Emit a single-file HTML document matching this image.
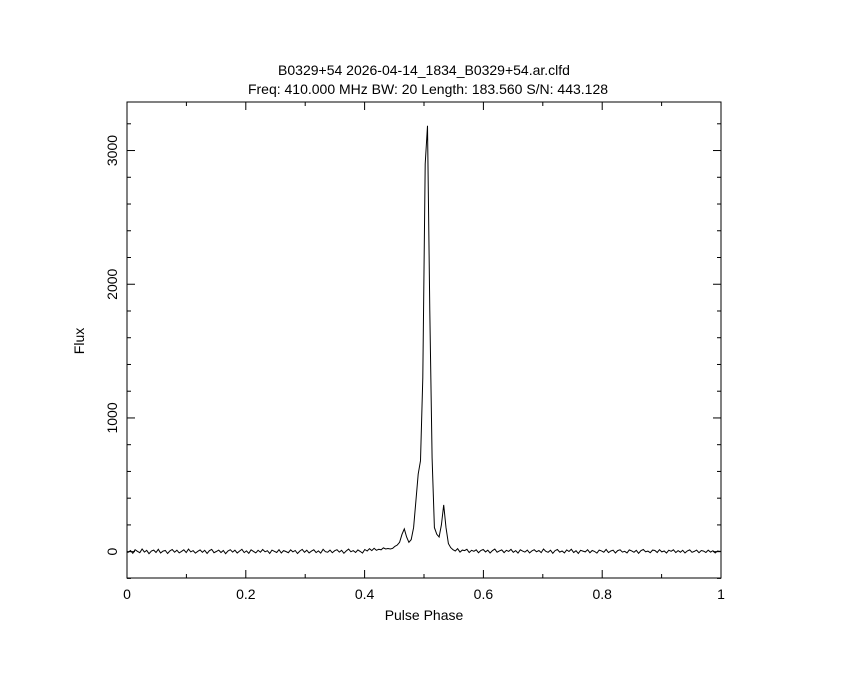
<!DOCTYPE html>
<html><head><meta charset="utf-8"><style>
html,body{margin:0;padding:0;background:#fff;}
svg{display:block;font-family:"Liberation Sans",sans-serif;}
</style></head><body>
<svg id="chart" width="850" height="680" viewBox="0 0 850 680">
<rect width="850" height="680" fill="#fff"/>
<text x="424" y="75" text-anchor="middle" font-size="14">B0329+54 2026-04-14_1834_B0329+54.ar.clfd</text>
<text x="428" y="94" text-anchor="middle" font-size="14">Freq: 410.000 MHz BW: 20 Length: 183.560 S/N: 443.128</text>
<text x="424" y="620" text-anchor="middle" font-size="14">Pulse Phase</text>
<text transform="translate(84,341) rotate(-90)" text-anchor="middle" font-size="14">Flux</text>
<g id="axes"></g>
<path id="profile" fill="none" stroke="#000" stroke-width="1"/>
<rect x="127" y="102" width="594" height="476" fill="none" stroke="#000" stroke-width="1"/>
</svg>
<script>
const xTicks=[0,0.2,0.4,0.6,0.8,1];
const xTickLabels=["0","0.2","0.4","0.6","0.8","1"];
const yTicks=[0,1000,2000,3000];
const yTickLabels=["0","1000","2000","3000"];
const fluxBaseline=[
 -5,8,-12,15,3,-8,20,-3,10,-15,5,12,-6,18,-10,4,9,-14,6,16,
 -4,11,-9,2,14,-7,19,-2,8,-11,3,13,-5,10,-13,7,17,-8,1,12,
 -6,9,-15,5,15,-3,11,-10,4,18,-7,6,-12,14,2,-9,10,-4,16,-1,
 7,-13,12,3,-6,15,-10,8,1,-8,13,-2,9,-14,5,17,-5,11,-9,4,
 14,-7,6,-11,18,0,-4,12,-8,7,15,-3,10,-12,6,19,-1,8,-6,13,
 2,-10,16,5,22,8,25,10,18,14,28,20,24
];
const fluxPulse=[20,25,40,50,70,130,170,110,70,90,180,380,580,680,1300,2900,3185,1800,700,180,130,110,200,350,180,60,30];
const fluxTrail=[
 15,5,22,-3,12,8,18,-6,10,3,14,-8,9,16,-2,11,-10,7,19,-4,
 6,13,-7,10,2,17,-5,8,-11,14,4,-3,12,-9,6,15,-1,9,-7,20,
 3,-5,11,-12,8,16,-3,5,-9,13,1,18,-6,7,-13,10,4,-2,15,-8,
 9,2,-11,12,6,-4,17,-7,5,11,-10,8,14,-3,3,-9,13,6,-5,10,
 -12,7,16,-1,4,-8,12,9,-6,15,-2,5,-10,11,3,14,-7,8,-4,10,
 -9,6,13,-5,2,12,-8,9,4,-6,11,-3,7,-9,5,2
];
const flux=fluxBaseline.concat(fluxPulse,fluxTrail);
const X0=127,X1=721,Y0=578,Y1=102,YMIN=-197,YMAX=3363;
function xs(v){return X0+(v-0)/(1-0)*(X1-X0);}
function ys(v){return Y0-(v-YMIN)/(YMAX-YMIN)*(Y0-Y1);}
const NS="http://www.w3.org/2000/svg";
const axes=document.getElementById('axes');
function line(x1,y1,x2,y2,name){const l=document.createElementNS(NS,'line');
l.setAttribute('x1',x1);l.setAttribute('y1',y1);l.setAttribute('x2',x2);l.setAttribute('y2',y2);
l.setAttribute('stroke','#000');l.setAttribute('stroke-width','1');


axes.appendChild(l);}
function text(x,y,s,name,rot){const t=document.createElementNS(NS,'text');
t.setAttribute('font-size','14');t.setAttribute('text-anchor','middle');
if(rot){t.setAttribute('transform','translate('+x+','+y+') rotate(-90)');}else{t.setAttribute('x',x);t.setAttribute('y',y);}
t.textContent=s;


axes.appendChild(t);}
for(let v=0;v<=1.0001;v+=0.1){const x=xs(v);const major=Math.abs(v*5-Math.round(v*5))<1e-6;const len=major?8:4;
line(x,Y0,x,Y0-len,'x-tick');line(x,Y1,x,Y1+len,'x-tick-top');}
xTicks.forEach((v,i)=>text(xs(v),599,xTickLabels[i],'x-tick-label',false));
for(let v=-200;v<=3363;v+=200){const y=ys(v);const major=v%1000===0;const len=major?8:4;
line(X0,y,X0+len,y,'y-tick');line(X1,y,X1-len,y,'y-tick-right');}
yTicks.forEach((v,i)=>text(117,ys(v),yTickLabels[i],'y-tick-label',true));
const n=flux.length;let d='';
flux.forEach((v,i)=>{const x=xs((i+0.5)/n),y=ys(v);
d+=(i===0?'M'+xs(0).toFixed(1)+','+y.toFixed(1)+'L':'L')+x.toFixed(1)+','+y.toFixed(1);});
d+='L'+xs(1).toFixed(1)+','+ys(flux[n-1]).toFixed(1);
document.getElementById('profile').setAttribute('d',d);
</script>
</body></html>
